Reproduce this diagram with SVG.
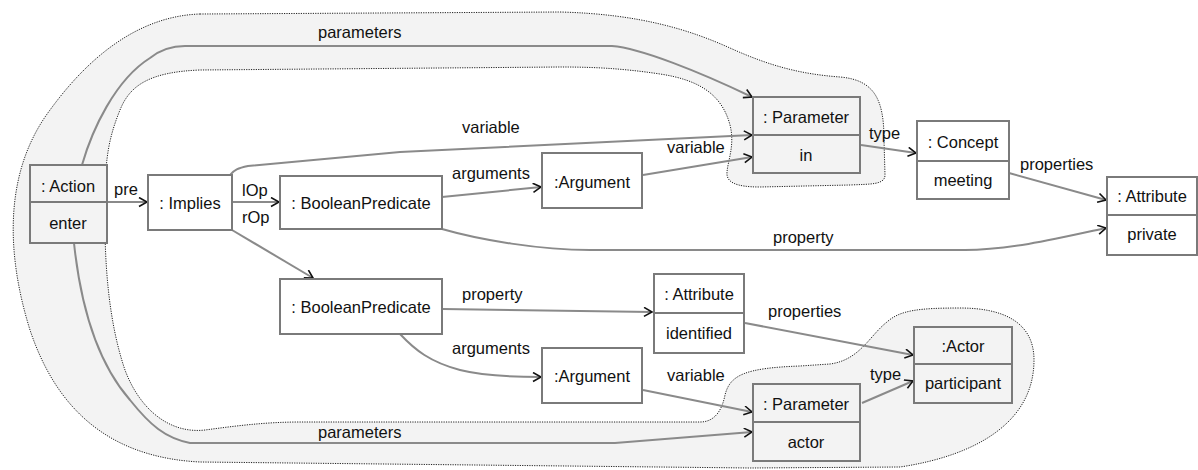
<svg xmlns="http://www.w3.org/2000/svg" width="1198" height="470" viewBox="0 0 1198 470">
<style>
text{font-family:"Liberation Sans",Arial,sans-serif;font-size:16.5px;fill:#111}
.box{fill:#fff;stroke:#7a7a7a;stroke-width:2}
.gbox{fill:#f3f3f3;stroke:#7a7a7a;stroke-width:2}
.div{stroke:#7a7a7a;stroke-width:2}
.c{fill:none;stroke:#8a8a8a;stroke-width:2;marker-end:url(#arr)}
.blob{fill:#f3f3f3;stroke:#222;stroke-width:1;stroke-dasharray:1.2,1.2}
.m{text-anchor:middle}
</style>
<defs>
<marker id="arr" markerWidth="12" markerHeight="12" refX="9" refY="5" orient="auto" markerUnits="userSpaceOnUse">
<path d="M1,0.5 L9,5 L1,9.5" fill="none" stroke="#111" stroke-width="1.6"/>
</marker>
</defs>
<rect width="1198" height="470" fill="#fff"/>
<path class="blob" d="M200,14 L560,12 C640,14 690,30 730,48 C770,66 800,74 840,77 C875,80 884,100 884,140 L885,175 C885,185 870,184 850,185 L760,187 C735,187 726,182 727,172 C728,160 735,145 730,125 C722,95 700,80 660,74 C620,68 590,67 560,67 L200,70 C150,72 130,85 120,110 C110,135 105,155 105,200 C104,260 108,320 125,370 C140,410 170,434 205,430 C235,426 265,422 300,422 L700,422 C715,422 722,410 725,395 C730,375 745,368 800,366 L830,364 C860,360 870,335 887,322 C900,310 920,308 960,308 C1000,308 1034,320 1034,360 C1034,420 980,455 900,467 L750,468 L200,462 C120,458 60,420 30,330 C5,250 5,170 50,110 C90,55 140,16 200,14 Z"/>
<g id="connectors">
<path class="c" d="M107,202 L147,202"/>
<path class="c" d="M232,202 L279,202"/>
<path class="c" d="M232,230 L313,278"/>
<path class="c" d="M230,175 C234,170 238,168 248,166 L400,152 L752,135"/>
<path class="c" d="M442,197 L541,187"/>
<path class="c" d="M643,175 L752,157"/>
<path class="c" d="M442,229 C480,240 540,250 590,250 L965,250 C1010,250 1060,238 1106,228"/>
<path class="c" d="M861,145 L916,153"/>
<path class="c" d="M1009,173 L1106,200"/>
<path class="c" d="M443,309 L652,312"/>
<path class="c" d="M400,334 C415,350 430,362 460,370 C480,375 510,377 541,377"/>
<path class="c" d="M643,390 L752,412"/>
<path class="c" d="M745,323 L913,355"/>
<path class="c" d="M862,403 L913,381"/>
<path class="c" d="M82,165 C92,130 115,80 150,58 C160,50 170,46 185,46 L612,46 C640,48 700,72 752,97"/>
<path class="c" d="M74,243 C80,300 95,360 130,400 C150,425 165,438 190,443 L615,443 C650,440 700,436 752,432"/>
<text x="114" y="195">pre</text>
<text x="242" y="196">lOp</text>
<text x="242" y="223">rOp</text>
<text x="462" y="133">variable</text>
<text x="452" y="179">arguments</text>
<text x="667" y="153">variable</text>
<text x="773" y="243">property</text>
<text x="869" y="139">type</text>
<text x="1020" y="170">properties</text>
<text x="462" y="300">property</text>
<text x="452" y="354">arguments</text>
<text x="667" y="381">variable</text>
<text x="768" y="317">properties</text>
<text x="870" y="380">type</text>
<text x="318" y="38">parameters</text>
<text x="318" y="438">parameters</text>
</g>
<g id="action">
<rect class="gbox" x="30" y="165" width="77" height="78"/>
<line class="div" x1="30" y1="202" x2="107" y2="202"/>
<text class="m" x="68" y="192">: Action</text>
<text class="m" x="68" y="229">enter</text>
</g>
<g id="implies">
<rect class="box" x="148" y="175" width="84" height="55"/>
<text class="m" x="190" y="209">: Implies</text>
</g>
<g id="boolpred1">
<rect class="box" x="280" y="176" width="162" height="53"/>
<text class="m" x="361" y="209">: BooleanPredicate</text>
</g>
<g id="argument1">
<rect class="box" x="542" y="153" width="100" height="55"/>
<text class="m" x="592" y="188">:Argument</text>
</g>
<g id="parameter1">
<rect class="gbox" x="753" y="97" width="107" height="76"/>
<line class="div" x1="753" y1="135" x2="860" y2="135"/>
<text class="m" x="806" y="123">: Parameter</text>
<text class="m" x="806" y="161">in</text>
</g>
<g id="concept">
<rect class="box" x="917" y="121" width="92" height="78"/>
<line class="div" x1="917" y1="161" x2="1009" y2="161"/>
<text class="m" x="963" y="148">: Concept</text>
<text class="m" x="963" y="186">meeting</text>
</g>
<g id="attribute-private">
<rect class="box" x="1107" y="177" width="90" height="78"/>
<line class="div" x1="1107" y1="215" x2="1197" y2="215"/>
<text class="m" x="1152" y="202">: Attribute</text>
<text class="m" x="1152" y="240">private</text>
</g>
<g id="boolpred2">
<rect class="box" x="280" y="279" width="162" height="55"/>
<text class="m" x="361" y="313">: BooleanPredicate</text>
</g>
<g id="attribute-identified">
<rect class="box" x="654" y="274" width="90" height="79"/>
<line class="div" x1="654" y1="313" x2="744" y2="313"/>
<text class="m" x="699" y="300">: Attribute</text>
<text class="m" x="699" y="339">identified</text>
</g>
<g id="argument2">
<rect class="box" x="542" y="348" width="100" height="55"/>
<text class="m" x="592" y="382">:Argument</text>
</g>
<g id="parameter2">
<rect class="gbox" x="753" y="384" width="107" height="77"/>
<line class="div" x1="753" y1="422" x2="860" y2="422"/>
<text class="m" x="806" y="410">: Parameter</text>
<text class="m" x="806" y="448">actor</text>
</g>
<g id="actor">
<rect class="gbox" x="914" y="327" width="98" height="76"/>
<line class="div" x1="914" y1="364" x2="1012" y2="364"/>
<text class="m" x="963" y="352">:Actor</text>
<text class="m" x="963" y="389">participant</text>
</g>
</svg>
